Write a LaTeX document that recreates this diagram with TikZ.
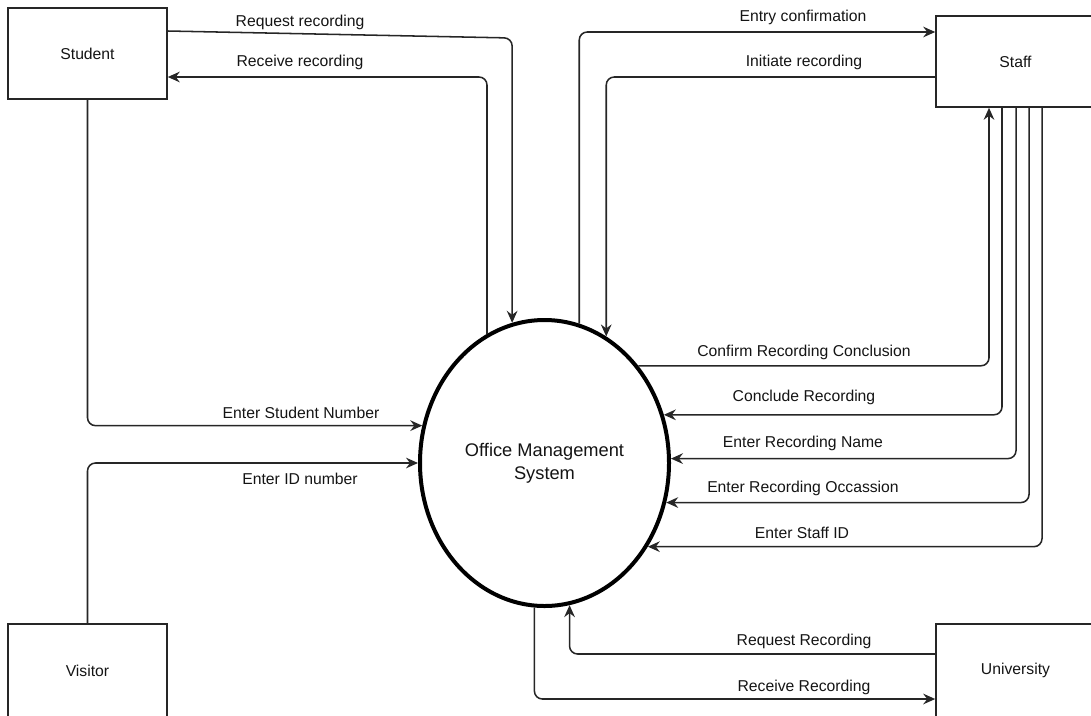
\documentclass[tikz,border=0pt]{standalone}
\usepackage{fontspec}
\setmainfont{Liberation Sans}
\usetikzlibrary{arrows.meta,shapes.geometric}

\definecolor{linec}{RGB}{38,38,38}
\definecolor{txt}{RGB}{20,20,20}

\begin{document}
\begin{tikzpicture}[x=0.75pt,y=-0.75pt,
  entity/.style={draw=linec, line width=1.2pt, minimum width=119.25pt,
    minimum height=68.25pt, inner sep=0pt, text=txt,
    font=\fontsize{11.8}{14}\selectfont},
  process/.style={ellipse, draw=black, line width=3pt, minimum width=186.75pt,
    minimum height=214.5pt, inner sep=0pt, align=center, text=txt,
    font=\fontsize{13.7}{17.3}\selectfont},
  flow/.style={draw=linec, line width=1.15pt, rounded corners=6pt,
    -{Stealth[length=9pt,width=8pt,inset=3pt]}},
  lbl/.style={inner sep=0pt, text=txt, font=\fontsize{11.8}{14}\selectfont}]

\useasboundingbox (0,0) rectangle (1091,715);

% external entities
\node[entity] (Student)    at (87.5,53.5)    {Student};
\node[entity] (Staff)      at (1015.5,61.5)  {Staff};
\node[entity, minimum height=69.75pt] (Visitor)    at (87.5,670.5)   {Visitor};
\node[entity, minimum height=69.75pt] (University) at (1015.5,670.5) {University};

% central process
\node[process] (OMS) at (544.5,463) {Office Management\\System};

% Student flows
\draw[flow] (Student.east |- 0,31) -- (OMS.103.5 |- 0,38) -- (OMS.103.5);
\draw[flow] (OMS.114.6) |- (Student.east |- 0,77);
\draw[flow] (Student.south) |- (OMS.163.1);

% Visitor flow
\draw[flow] (Visitor.north) |- (OMS.west);

% Staff flows
\draw[flow] (OMS.76.9) |- (Staff.west |- 0,32);
\draw[flow] (Staff.west |- 0,77) -| (OMS.64.5);
\draw[flow] (OMS.46.6) -| (Staff.south -| 989,0);
\draw[flow] (Staff.south -| 1002,0) |- (OMS.22.9);
\draw[flow] (Staff.south -| 1016,0) |- (OMS.2.7);
\draw[flow] (Staff.south -| 1029,0) |- (OMS.-18.3);
\draw[flow] (Staff.south -| 1042,0) |- (OMS.-39.8);

% University flows
\draw[flow] (University.west |- 0,654) -| (OMS.-80.2);
\draw[flow] (OMS.-94.6) |- (University.west |- 0,699);

% flow labels
\node[lbl] (l1)  at (300,22)  {Request recording};
\node[lbl] (l2)  at (300,62)  {Receive recording};
\node[lbl] (l3)  at (301,413) {Enter Student Number};
\node[lbl] (l4)  at (300,479) {Enter ID number};
\node[lbl] (l5)  at (803,17)  {Entry confirmation};
\node[lbl] (l6)  at (804,62)  {Initiate recording};
\node[lbl] (l7)  at (804,352) {Confirm Recording Conclusion};
\node[lbl] (l8)  at (804,397) {Conclude Recording};
\node[lbl] (l9)  at (803,443) {Enter Recording Name};
\node[lbl] (l10) at (803,488) {Enter Recording Occassion};
\node[lbl] (l11) at (802,533) {Enter Staff ID};
\node[lbl] (l12) at (804,641) {Request Recording};
\node[lbl] (l13) at (804,687) {Receive Recording};

\end{tikzpicture}
\end{document}
